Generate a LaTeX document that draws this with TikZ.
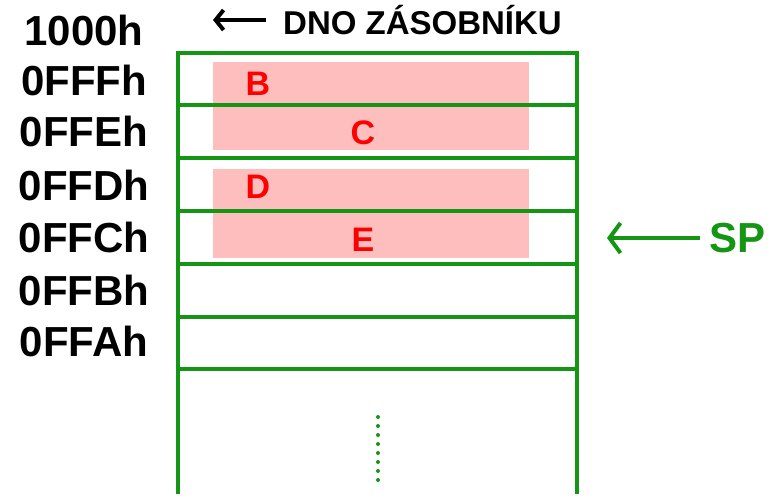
\documentclass[tikz,border=0pt]{standalone}
\usepackage{fontspec}
\usetikzlibrary{arrows.meta}
\setmainfont{Liberation Sans}
\definecolor{stk}{RGB}{20,150,20}
\definecolor{pk}{RGB}{255,190,190}
\begin{document}
\begin{tikzpicture}[x=1pt,y=-1pt,
  addr/.style={font=\bfseries\fontsize{42}{42}\selectfont,anchor=center},
  reg/.style={font=\bfseries\fontsize{34}{34}\selectfont,text=red,anchor=center},
  ln/.style={stk,line width=4pt}]
\useasboundingbox (0,0) rectangle (782,498);
\fill[pk] (213,62) rectangle (529,150);
\fill[pk] (213,169) rectangle (529,258);
\foreach \y in {53,105,158,211,264,317,369} \draw[ln] (176,\y) -- (579,\y);
\draw[ln] (178,51) -- (178,494);
\draw[ln] (577,51) -- (577,494);
\draw[stk,line width=4pt,line cap=round,dash pattern=on 0pt off 9pt] (378,417) -- (378,480);
\node[reg] (b) at (258,84) {B};
\node[reg] (c) at (363,133) {C};
\node[reg] (d) at (258,187) {D};
\node[reg] (e) at (363,240) {E};
\node[addr] (a0) at (84,30) {1000h};
\node[addr] (a1) at (84,80) {0FFFh};
\node[addr] (a2) at (84,131) {0FFEh};
\node[addr] (a3) at (84,185) {0FFDh};
\node[addr] (a4) at (84,237) {0FFCh};
\node[addr] (a5) at (84,290) {0FFBh};
\node[addr] (a6) at (84,341) {0FFAh};
\node[font=\bfseries\fontsize{33}{33}\selectfont,anchor=west,inner sep=0pt] (dno) at (283,20) {DNO ZÁSOBNÍKU};
\coordinate (dnoend) at (213,20);
\draw[line width=4pt,-{Straight Barb[length=8pt,width=20pt]}] (266,20) -- (dnoend);
\node[font=\bfseries\fontsize{42}{42}\selectfont,text=stk,anchor=west,inner sep=0pt] (sp) at (709,238) {SP};
\coordinate (spend) at (607,238);
\draw[stk,line width=4pt,-{Straight Barb[length=11pt,width=30pt]}] (700,238) -- (spend);
\end{tikzpicture}
\end{document}
